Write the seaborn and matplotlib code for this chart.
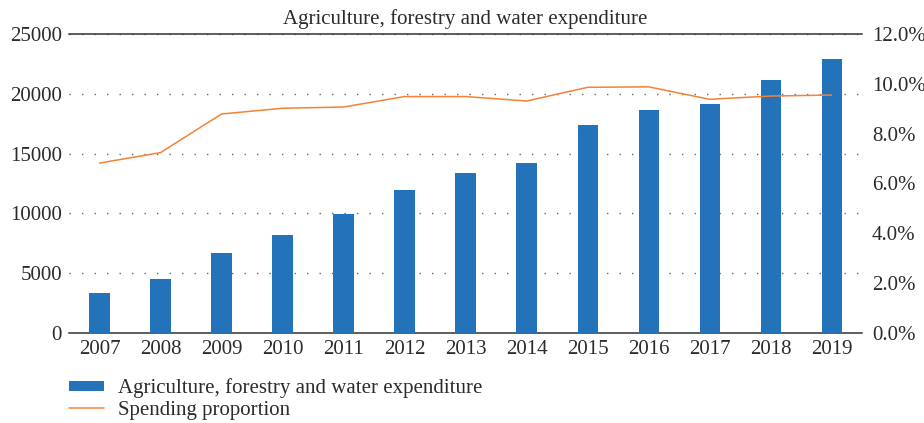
import matplotlib
matplotlib.use("Agg")
import matplotlib.pyplot as plt
import matplotlib.ticker as mticker
import numpy as np
import pandas as pd
import seaborn as sns

years = ["2007", "2008", "2009", "2010", "2011", "2012", "2013",
         "2014", "2015", "2016", "2017", "2018", "2019"]
expenditure = [3350, 4550, 6730, 8160, 9920, 11930, 13350,
               14190, 17380, 18630, 19140, 21150, 22910]
proportion = [6.82, 7.24, 8.79, 9.02, 9.07, 9.49, 9.49,
              9.31, 9.86, 9.88, 9.38, 9.51, 9.55]

bar_label = "Agriculture, forestry and water expenditure"
line_label = "Spending proportion"
title = "Agriculture, forestry and water expenditure"

BLUE = "#2372BA"
ORANGE = "#F58235"
TEXT = "#2b2b2b"
FS = 15

sns.set_style("white")
plt.rcParams["font.family"] = ["Liberation Serif", "DejaVu Serif"]
plt.rcParams["text.color"] = TEXT
plt.rcParams["xtick.color"] = TEXT
plt.rcParams["ytick.color"] = TEXT

df = pd.DataFrame({"year": years, "value": expenditure,
                   "pct": proportion, "pos": np.arange(len(years))})

fig = plt.figure(figsize=(9.24, 4.23), dpi=100)
ax = fig.add_axes([0.0747, 0.2128, 0.8583, 0.7068])

sns.barplot(data=df, x="year", y="value", color=BLUE, width=0.33,
            saturation=1, linewidth=0, ax=ax, label=bar_label, zorder=3)
ax.set_ylim(0, 25000)
ax.set_xlim(-0.5, len(years) - 0.5)
ax.set_yticks(np.arange(0, 25001, 5000))
ax.yaxis.grid(True, linestyle=(0, (1, 8)), color="#666666", linewidth=1, zorder=0)
ax.xaxis.grid(False)
ax.set_axisbelow(True)
for s in ["left", "right"]:
    ax.spines[s].set_visible(False)
ax.spines["bottom"].set_color("#333333")
ax.spines["top"].set_color("#333333")
ax.spines["bottom"].set_linewidth(1.1)
ax.spines["top"].set_linewidth(1.1)
ax.set_xlabel("")
ax.set_ylabel("")
ax.tick_params(axis="both", length=0, labelsize=FS)
ax.tick_params(axis="x", pad=5)
ax.tick_params(axis="y", pad=5)

ax2 = ax.twinx()
sns.lineplot(data=df, x="pos", y="pct", color=ORANGE, linewidth=1.1,
             ax=ax2, label=line_label, zorder=4)
ax2.set_ylim(0, 12)
ax2.set_yticks(np.arange(0, 12.01, 2))
ax2.yaxis.set_major_formatter(mticker.FuncFormatter(lambda v, p: f"{v:.1f}%"))
ax2.grid(False)
for s in ["left", "right", "top", "bottom"]:
    ax2.spines[s].set_visible(False)
ax2.set_ylabel("")
ax2.tick_params(axis="y", length=0, labelsize=FS, pad=7)
ax2.set_xlim(-0.5, len(years) - 0.5)

ax.set_title(title, fontsize=FS, pad=7, color=TEXT)

h1, l1 = ax.get_legend_handles_labels()
h2, l2 = ax2.get_legend_handles_labels()
if ax.get_legend():
    ax.get_legend().remove()
if ax2.get_legend():
    ax2.get_legend().remove()
fig.legend(h1 + h2, l1 + l2, loc="upper left", bbox_to_anchor=(0.0747, 0.105),
           frameon=False, fontsize=FS, handlelength=1.7, handleheight=0.4,
           handletextpad=0.65, labelspacing=0.1, borderaxespad=0, borderpad=0)

fig.savefig("out.png", dpi=100)
